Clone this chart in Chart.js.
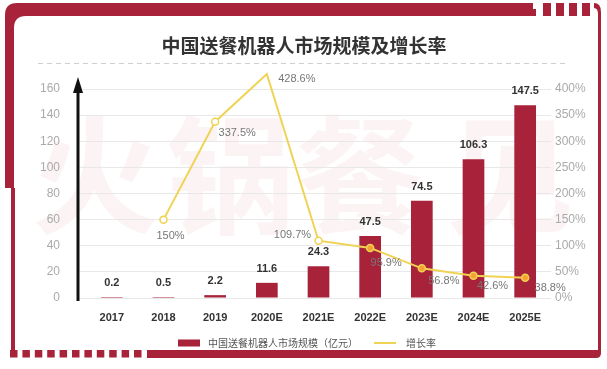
<!DOCTYPE html>
<html>
<head>
<meta charset="utf-8">
<script src="https://cdn.jsdelivr.net/npm/chart.js@4.4.0/dist/chart.umd.min.js"></script>
<style>
html, body { margin: 0; padding: 0; background: #fff; }
</style>
</head>
<body>
<canvas id="robotChart" width="607" height="369"></canvas>
<script>
const years = ['2017', '2018', '2019', '2020E', '2021E', '2022E', '2023E', '2024E', '2025E'];
const marketSize = [0.2, 0.5, 2.2, 11.6, 24.3, 47.5, 74.5, 106.3, 147.5];
const growthRate = [null, 150, 337.5, 428.6, 109.7, 95.9, 56.8, 42.6, 38.8];
const sizeLabel = '中国送餐机器人市场规模（亿元）';
const rateLabel = '增长率';
const titleText = '中国送餐机器人市场规模及增长率';

const RED = '#a8233a';
const YELLOW = '#f0d254';
const CJK = '"Noto Sans CJK SC", sans-serif';
const LAT = '"Liberation Sans", Arial, sans-serif';

// where each growth label sits relative to its point
const rateLabelOffset = [null, [7, 16], [22, 11], [30, 5], [-26, -6], [16, 15], [22, 13], [19, 10], [25, 10]];

const deco = {
    id: 'deco',
    beforeDraw(chart) {
        const c = chart.ctx;
        c.save();
        // watermark
        c.fillStyle = 'rgba(205, 50, 50, 0.055)';
        c.font = 'bold 128px ' + CJK;
        c.textAlign = 'center';
        c.textBaseline = 'middle';
        const wm = ['火', '锅', '餐', '见'];
        const wx = [95, 230, 360, 510];
        wm.forEach((ch, i) => c.fillText(ch, wx[i], 175));

        // frame
        c.fillStyle = RED;
        c.beginPath();
        c.moveTo(5, 188);
        c.lineTo(5, 15);
        c.quadraticCurveTo(5, 3, 17, 3);
        c.lineTo(533, 3);
        c.lineTo(533, 16);
        c.lineTo(26, 16);
        c.quadraticCurveTo(14, 16, 14, 28);
        c.lineTo(14, 188);
        c.closePath();
        c.fill();
        c.fillRect(530, 9, 6, 7);
        [543, 556, 569, 582].forEach(x => c.fillRect(x, 3, 8, 13));
        c.beginPath();
        c.moveTo(594, 3);
        c.quadraticCurveTo(601, 3, 601, 12);
        c.lineTo(601, 350);
        c.lineTo(598, 350);
        c.lineTo(598, 14);
        c.quadraticCurveTo(598, 8, 594, 8);
        c.closePath();
        c.fill();
        c.fillRect(11, 188, 4, 168);
        for (let i = 0; i < 11; i++) c.fillRect(10 + i * 12.4, 350, 7.5, 7.5);
        c.beginPath();
        c.moveTo(147, 350);
        c.lineTo(601, 350);
        c.lineTo(601, 353);
        c.quadraticCurveTo(601, 358, 596, 358);
        c.lineTo(147, 358);
        c.closePath();
        c.fill();

        // title
        c.fillStyle = '#333';
        c.font = 'bold 19px ' + CJK;
        c.fillText(titleText, 304, 46);
        c.strokeStyle = '#cfcfcf';
        c.lineWidth = 1;
        c.setLineDash([5, 4]);
        c.beginPath();
        c.moveTo(38, 63.5);
        c.lineTo(566, 63.5);
        c.stroke();
        c.restore();
    },
    beforeDatasetsDraw(chart) {
        const c = chart.ctx;
        const a = chart.chartArea;
        const x = a.left - 8;
        c.save();
        c.strokeStyle = '#111';
        c.fillStyle = '#111';
        c.lineWidth = 3;
        c.beginPath();
        c.moveTo(x, a.bottom + 3);
        c.lineTo(x, a.top + 2);
        c.stroke();
        c.beginPath();
        c.moveTo(x, a.top - 12);
        c.lineTo(x - 5, a.top + 4);
        c.lineTo(x + 5, a.top + 4);
        c.closePath();
        c.fill();
        c.restore();
    },
    afterDraw(chart) {
        const c = chart.ctx;
        c.save();
        c.textAlign = 'center';
        c.textBaseline = 'middle';
        // bar values
        c.fillStyle = '#333';
        c.font = 'bold 11px ' + LAT;
        chart.getDatasetMeta(0).data.forEach((bar, i) => {
            c.fillText(marketSize[i].toFixed(1), bar.x, bar.y - 14);
        });
        // growth values
        c.fillStyle = '#777';
        c.font = '11px ' + LAT;
        chart.getDatasetMeta(1).data.forEach((pt, i) => {
            if (growthRate[i] === null) return;
            const o = rateLabelOffset[i];
            c.fillText(growthRate[i].toFixed(1).replace('.0', '') + '%', pt.x + o[0], pt.y + o[1]);
        });
        // legend
        c.font = '10px ' + CJK;
        c.textAlign = 'left';
        const w1 = c.measureText(sizeLabel).width;
        const w2 = c.measureText(rateLabel).width;
        const total = 22 + 8 + w1 + 16 + 22 + 10 + w2;
        let lx = 307 - total / 2;
        const ly = 343;
        c.fillStyle = RED;
        c.fillRect(lx, ly - 3.5, 22, 7);
        lx += 30;
        c.fillStyle = '#555';
        c.fillText(sizeLabel, lx, ly);
        lx += w1 + 16;
        c.strokeStyle = YELLOW;
        c.lineWidth = 2;
        c.beginPath();
        c.moveTo(lx, ly);
        c.lineTo(lx + 22, ly);
        c.stroke();
        lx += 32;
        c.fillText(rateLabel, lx, ly);
        c.restore();
    }
};

const ctx = document.getElementById('robotChart').getContext('2d');
new Chart(ctx, {
    type: 'bar',
    data: {
        labels: years,
        datasets: [{
            type: 'bar',
            label: sizeLabel,
            data: marketSize,
            backgroundColor: RED,
            barPercentage: 0.42,
            categoryPercentage: 1,
            minBarLength: 1,
            yAxisID: 'y',
            order: 1
        }, {
            type: 'line',
            label: rateLabel,
            data: growthRate,
            borderColor: YELLOW,
            borderWidth: 2,
            tension: 0,
            clip: false,
            pointRadius: 3.5,
            pointBorderWidth: 1.5,
            pointBorderColor: YELLOW,
            pointBackgroundColor: growthRate.map((v, i) => i < 5 ? '#fff' : '#f5a232'),
            yAxisID: 'y1',
            order: 0
        }]
    },
    options: {
        responsive: false,
        animation: false,
        layout: { padding: { top: 89, bottom: 40, left: 0, right: 0 } },
        plugins: {
            legend: { display: false },
            tooltip: { enabled: false }
        },
        scales: {
            x: {
                grid: { display: false, drawTicks: false },
                border: { display: false },
                ticks: { color: '#333', font: { family: LAT, size: 11, weight: 'bold' }, padding: 13 },
                afterFit: s => { s.height = 31; }
            },
            y: {
                position: 'left',
                min: 0,
                max: 160,
                ticks: { stepSize: 20, color: '#aaa', font: { family: LAT, size: 12 }, padding: 18 },
                grid: { color: '#e8e8e8', tickLength: 8, drawTicks: true },
                border: { display: false },
                afterFit: s => { s.width = 86; }
            },
            y1: {
                position: 'right',
                min: 0,
                max: 400,
                ticks: { stepSize: 50, color: '#aaa', font: { family: LAT, size: 12 }, padding: 4, callback: v => v + '%' },
                grid: { display: false, drawTicks: false },
                border: { display: false },
                afterFit: s => { s.width = 56; }
            }
        }
    },
    plugins: [deco]
});
</script>
</body>
</html>
